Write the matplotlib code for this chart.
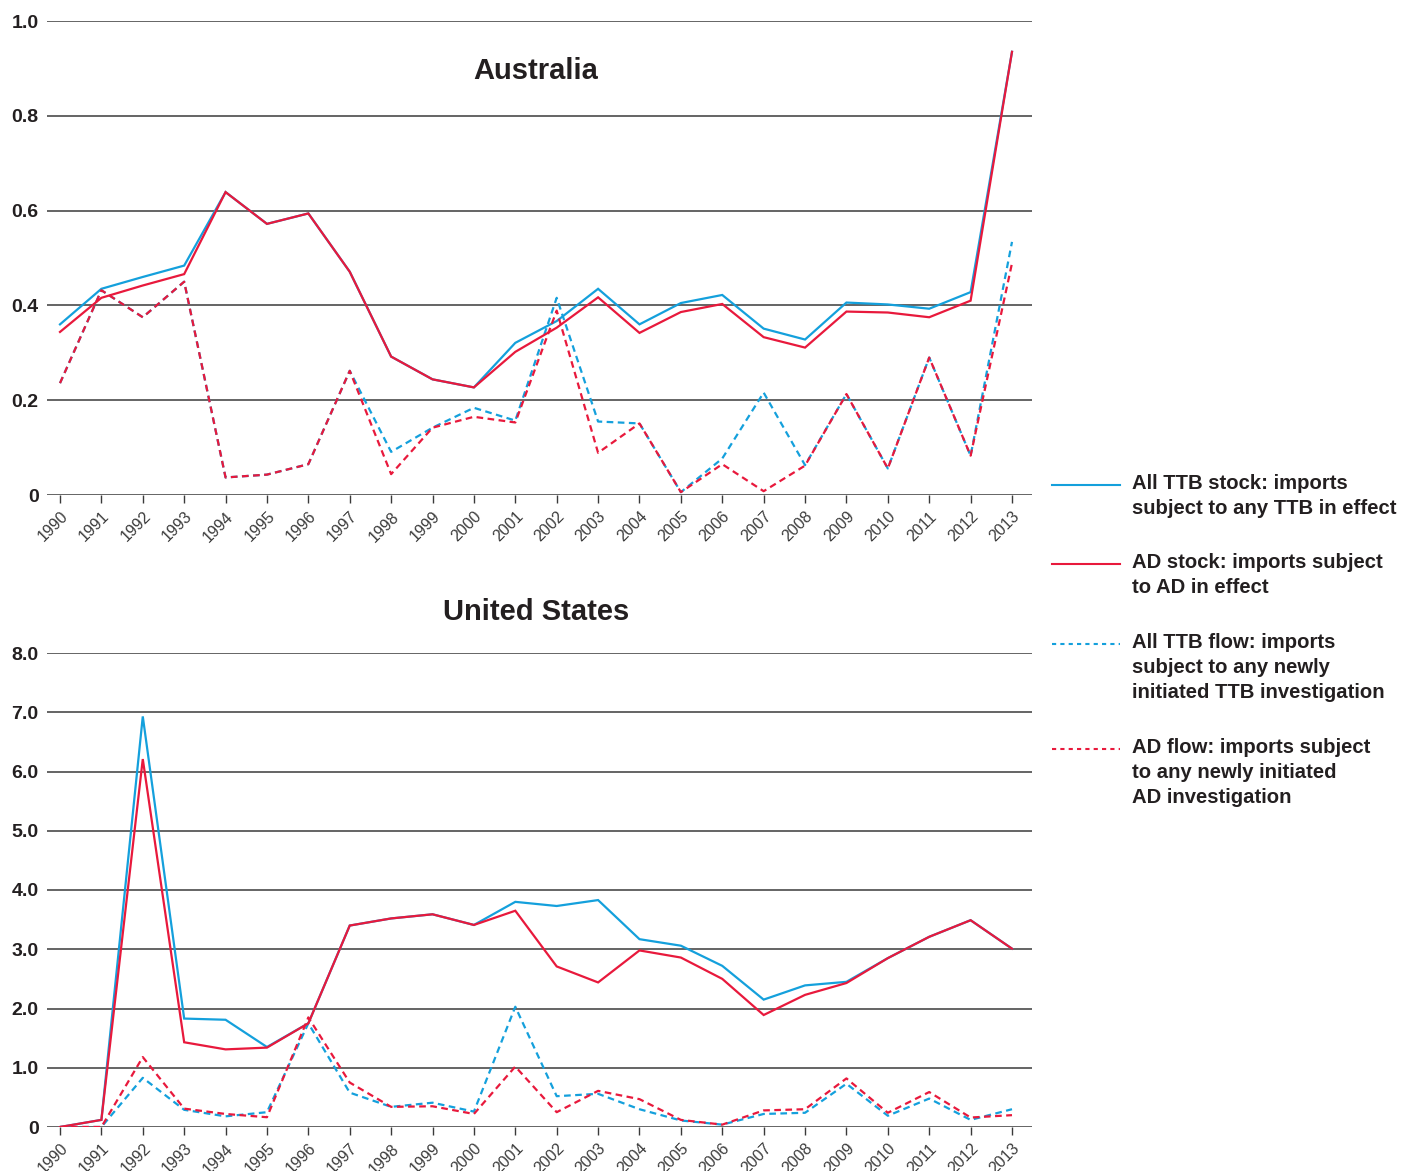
import matplotlib
matplotlib.use("Agg")
import matplotlib.pyplot as plt
from matplotlib.lines import Line2D
import numpy as np

years = list(range(1990, 2014))

# Australia
au_ttb_stock = [0.36, 0.435, 0.46, 0.484, 0.639, 0.572, 0.594, 0.471, 0.292, 0.244, 0.227, 0.321, 0.367,
                0.435, 0.36, 0.405, 0.422, 0.351, 0.328, 0.406, 0.402, 0.393, 0.428, 0.935]
au_ad_stock = [0.344, 0.416, 0.442, 0.466, 0.639, 0.572, 0.594, 0.471, 0.292, 0.244, 0.227, 0.302, 0.353,
               0.417, 0.342, 0.386, 0.403, 0.333, 0.311, 0.387, 0.385, 0.375, 0.41, 0.935]
au_ttb_flow = [0.236, 0.432, 0.375, 0.45, 0.037, 0.043, 0.065, 0.262, 0.091, 0.142, 0.184, 0.157, 0.416,
               0.155, 0.151, 0.006, 0.077, 0.216, 0.063, 0.213, 0.056, 0.29, 0.083, 0.534]
au_ad_flow = [0.236, 0.432, 0.375, 0.45, 0.037, 0.043, 0.065, 0.262, 0.044, 0.142, 0.165, 0.153, 0.389,
              0.089, 0.151, 0.006, 0.065, 0.008, 0.062, 0.213, 0.056, 0.29, 0.083, 0.489]

# United States
us_ttb_stock = [0.0, 0.12, 6.93, 1.83, 1.81, 1.35, 1.75, 3.40, 3.52, 3.59, 3.41, 3.80, 3.73,
                3.83, 3.17, 3.06, 2.72, 2.15, 2.39, 2.45, 2.85, 3.21, 3.49, 3.01]
us_ad_stock = [0.0, 0.12, 6.21, 1.43, 1.31, 1.34, 1.75, 3.40, 3.52, 3.59, 3.41, 3.65, 2.71,
               2.44, 2.98, 2.86, 2.50, 1.89, 2.23, 2.43, 2.85, 3.21, 3.49, 3.01]
us_ttb_flow = [0.0, 0.0, 0.83, 0.29, 0.18, 0.25, 1.75, 0.58, 0.34, 0.41, 0.26, 2.03, 0.52,
               0.56, 0.30, 0.11, 0.04, 0.22, 0.24, 0.73, 0.19, 0.48, 0.12, 0.30]
us_ad_flow = [0.0, 0.0, 1.18, 0.31, 0.22, 0.165, 1.85, 0.75, 0.34, 0.35, 0.22, 1.02, 0.25,
              0.61, 0.47, 0.12, 0.04, 0.28, 0.30, 0.82, 0.24, 0.59, 0.16, 0.20]

au_yticks = [0, 0.2, 0.4, 0.6, 0.8, 1.0]
au_yticklabels = ["0", "0.2", "0.4", "0.6", "0.8", "1.0"]
us_yticks = [0, 1, 2, 3, 4, 5, 6, 7, 8]
us_yticklabels = ["0", "1.0", "2.0", "3.0", "4.0", "5.0", "6.0", "7.0", "8.0"]

legend_labels = [
    "All TTB stock: imports\nsubject to any TTB in effect",
    "AD stock: imports subject\nto AD in effect",
    "All TTB flow: imports\nsubject to any newly\ninitiated TTB investigation",
    "AD flow: imports subject\nto any newly initiated\nAD investigation",
]

BLUE = "#14a0dc"
RED = "#e8193c"
TXT = "#231f20"
GRID = "#3a3a3a"
FONT = "Liberation Sans"

W, H = 1416, 1171
fig = plt.figure(figsize=(W / 100, H / 100), dpi=100)


def px_ax(left, top, right, bottom):
    return fig.add_axes([left / W, 1 - bottom / H, (right - left) / W, (bottom - top) / H])


def style(ax, yticks, ylabels, ymax):
    ax.set_xlim(1990 - 13 / 41.39, 2013 + 20 / 41.39)
    ax.set_ylim(0, ymax)
    for s in ax.spines.values():
        s.set_visible(False)
    for t in yticks:
        ax.axhline(t, color=GRID, lw=1.1, zorder=1)
    ax.set_yticks(yticks)
    ax.set_yticklabels(ylabels, fontsize=14, fontweight="bold", color=TXT, family=FONT)
    ax.tick_params(axis="y", length=0, pad=6)
    ax.set_xticks(years)
    ax.set_xticklabels([str(y) for y in years], rotation=45, ha="right", rotation_mode="anchor",
                       fontsize=11.5, color="#3c3c3c", family=FONT)
    ax.tick_params(axis="x", length=6, width=1, color=GRID, pad=4, direction="out")


def plot_set(ax, a, b, c, d):
    lw = 1.6
    ax.plot(years, a, color=BLUE, lw=lw, zorder=3, solid_joinstyle="miter")
    ax.plot(years, b, color=RED, lw=lw, zorder=4, solid_joinstyle="miter")
    ax.plot(years, c, color=BLUE, lw=lw, ls=(0, (3, 2)), zorder=3)
    ax.plot(years, d, color=RED, lw=lw, ls=(0, (3, 2)), zorder=4)


ax1 = px_ax(47, 21, 1032, 495)
plot_set(ax1, au_ttb_stock, au_ad_stock, au_ttb_flow, au_ad_flow)
style(ax1, au_yticks, au_yticklabels, 1.0)

ax2 = px_ax(47, 653, 1032, 1127)
plot_set(ax2, us_ttb_stock, us_ad_stock, us_ttb_flow, us_ad_flow)
style(ax2, us_yticks, us_yticklabels, 8.0)

fig.text(536 / W, 1 - 71 / H, "Australia", ha="center", va="center", fontsize=21,
         fontweight="bold", color=TXT, family=FONT)
fig.text(536 / W, 1 - 612 / H, "United States", ha="center", va="center", fontsize=21,
         fontweight="bold", color=TXT, family=FONT)

# legend
leg_y = [485, 564, 644, 749]
leg_style = [(BLUE, "-"), (RED, "-"), (BLUE, (0, (2, 2))), (RED, (0, (2, 2)))]
for y, (col, ls), lab in zip(leg_y, leg_style, legend_labels):
    fig.add_artist(Line2D([1052 / W, 1120 / W], [1 - y / H, 1 - y / H], color=col, lw=1.5, ls=ls))
    fig.text(1132 / W, 1 - (y - 11) / H, lab, ha="left", va="top", fontsize=14.6,
             fontweight="bold", color=TXT, family=FONT, linespacing=1.4)

fig.savefig("out.png", dpi=100, facecolor="white")
